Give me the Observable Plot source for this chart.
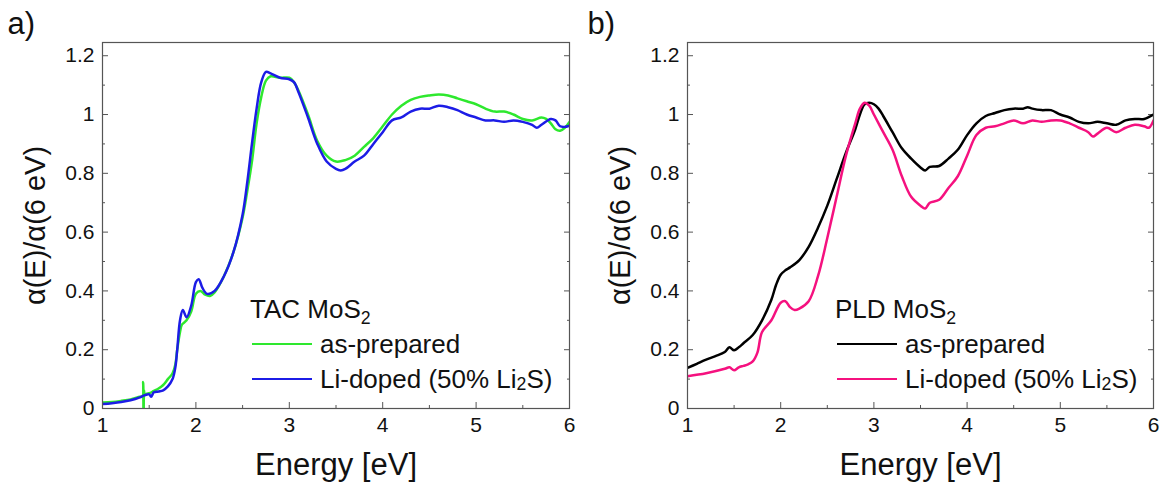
<!DOCTYPE html>
<html>
<head>
<meta charset="utf-8">
<script src="https://cdn.jsdelivr.net/npm/d3@7"></script>
<script src="https://cdn.jsdelivr.net/npm/@observablehq/plot@0.6"></script>
<style>
  html, body { margin: 0; padding: 0; background: white; }
  #wrap { position: relative; width: 1160px; height: 482px; display: flex; font-family: "Liberation Sans", Arial, sans-serif; }
  .legend { position: absolute; color: #111; }
  .legend .title { font-size: 26px; line-height: 1; }
  .legend .row { display: flex; align-items: center; font-size: 26px; line-height: 1; margin-top: 9px; }
  .legend .sw { width: 60px; height: 0; border-top: 2.6px solid; margin-right: 8px; margin-left: 2px; }
  .sb { font-size: 0.68em; position: relative; top: 0.32em; }
</style>
</head>
<body>
<div id="wrap"></div>
<script>
// ---------- data: panel a (TAC MoS2) ----------
const tacEnergyAs = [1.0,1.1,1.2,1.3,1.4,1.43,1.435,1.44,1.445,1.45,1.5,1.55,1.6,1.65,1.7,1.75,1.78,1.8,1.83,1.85,1.9,1.95,2.0,2.05,2.1,2.15,2.2,2.3,2.4,2.5,2.55,2.6,2.65,2.7,2.75,2.8,2.9,3.0,3.05,3.1,3.2,3.3,3.4,3.5,3.6,3.7,3.8,3.9,4.0,4.1,4.2,4.3,4.4,4.5,4.6,4.7,4.8,4.9,5.0,5.1,5.2,5.3,5.4,5.5,5.6,5.7,5.75,5.8,5.85,5.9,5.95,6.0];
const tacAsPrepared = [0.02,0.022,0.026,0.031,0.04,0.042,0.09,-0.03,0.06,0.05,0.052,0.06,0.068,0.08,0.1,0.12,0.15,0.2,0.26,0.285,0.3,0.33,0.39,0.4,0.387,0.383,0.395,0.45,0.53,0.65,0.74,0.84,0.97,1.06,1.115,1.13,1.125,1.125,1.11,1.08,1.0,0.91,0.86,0.84,0.845,0.86,0.89,0.92,0.96,1.0,1.03,1.05,1.06,1.065,1.068,1.065,1.055,1.045,1.035,1.02,1.01,1.01,1.0,0.985,0.98,0.99,0.985,0.97,0.95,0.945,0.955,0.975];
const tacEnergyLi = [1.0,1.1,1.2,1.3,1.4,1.45,1.5,1.52,1.55,1.6,1.65,1.7,1.75,1.78,1.8,1.83,1.86,1.9,1.95,2.0,2.03,2.07,2.12,2.2,2.3,2.4,2.5,2.55,2.6,2.65,2.7,2.75,2.8,2.9,3.0,3.05,3.1,3.2,3.3,3.4,3.5,3.55,3.6,3.7,3.8,3.9,4.0,4.1,4.2,4.3,4.4,4.5,4.6,4.7,4.8,4.9,5.0,5.1,5.2,5.3,5.4,5.5,5.6,5.65,5.7,5.8,5.85,5.9,5.95,6.0];
const tacLiDoped = [0.015,0.018,0.022,0.028,0.038,0.045,0.048,0.04,0.055,0.058,0.062,0.075,0.1,0.14,0.2,0.3,0.335,0.31,0.35,0.43,0.44,0.41,0.39,0.4,0.45,0.53,0.66,0.77,0.9,1.02,1.11,1.145,1.14,1.125,1.12,1.11,1.075,0.99,0.9,0.84,0.815,0.81,0.815,0.84,0.86,0.9,0.94,0.98,0.99,1.01,1.02,1.02,1.03,1.025,1.015,1.0,0.99,0.98,0.98,0.975,0.98,0.975,0.965,0.955,0.965,0.985,0.98,0.96,0.958,0.962];

// ---------- data: panel b (PLD MoS2) ----------
const pldEnergyAs = [1.0,1.1,1.2,1.3,1.4,1.45,1.5,1.55,1.6,1.7,1.8,1.9,1.95,2.0,2.05,2.1,2.2,2.3,2.4,2.5,2.6,2.7,2.8,2.85,2.9,2.95,3.0,3.05,3.1,3.2,3.3,3.4,3.5,3.55,3.6,3.7,3.8,3.9,4.0,4.1,4.2,4.3,4.4,4.5,4.6,4.65,4.7,4.8,4.9,5.0,5.1,5.2,5.3,5.4,5.5,5.6,5.7,5.8,5.9,6.0];
const pldAsPrepared = [0.138,0.152,0.166,0.178,0.192,0.208,0.198,0.208,0.222,0.25,0.3,0.37,0.42,0.455,0.47,0.48,0.505,0.55,0.615,0.69,0.78,0.87,0.95,1.0,1.035,1.04,1.035,1.02,0.995,0.94,0.885,0.85,0.82,0.81,0.822,0.825,0.85,0.88,0.93,0.97,0.995,1.005,1.015,1.02,1.02,1.025,1.02,1.015,1.015,1.0,0.99,0.975,0.97,0.975,0.97,0.965,0.98,0.985,0.985,1.0];
const pldEnergyLi = [1.0,1.2,1.4,1.45,1.5,1.55,1.6,1.65,1.7,1.75,1.8,1.9,2.0,2.05,2.1,2.15,2.2,2.3,2.4,2.5,2.6,2.7,2.8,2.85,2.9,2.95,3.0,3.1,3.2,3.3,3.4,3.5,3.55,3.6,3.7,3.8,3.9,4.0,4.1,4.2,4.3,4.4,4.5,4.6,4.7,4.8,4.9,5.0,5.1,5.2,5.3,5.35,5.4,5.5,5.6,5.7,5.8,5.9,5.95,6.0];
const pldLiDoped = [0.11,0.12,0.135,0.14,0.13,0.14,0.145,0.15,0.16,0.19,0.26,0.3,0.36,0.365,0.345,0.335,0.34,0.365,0.45,0.58,0.72,0.86,0.97,1.02,1.04,1.03,1.0,0.94,0.88,0.79,0.72,0.69,0.68,0.7,0.71,0.75,0.79,0.86,0.93,0.955,0.96,0.97,0.98,0.97,0.98,0.975,0.98,0.98,0.97,0.955,0.94,0.925,0.935,0.955,0.94,0.955,0.965,0.96,0.955,0.98];

// ---------- axis ticks ----------
const xMajor = [1,2,3,4,5,6];
const xMinor = [1.5,2.5,3.5,4.5,5.5];
const yMajor = [0,0.2,0.4,0.6,0.8,1.0,1.2];
const yMinor = [0.1,0.3,0.5,0.7,0.9,1.1];

const panels = [
  {label: "a)", sample: "TAC MoS", ml: 102, mr: 11,
   series: [
     {name: "as-prepared", e: tacEnergyAs, v: tacAsPrepared, color: "#2ee82e"},
     {name: "Li-doped", e: tacEnergyLi, v: tacLiDoped, color: "#1c1ce6"}
   ]},
  {label: "b)", sample: "PLD MoS", ml: 107, mr: 7,
   series: [
     {name: "as-prepared", e: pldEnergyAs, v: pldAsPrepared, color: "#000000"},
     {name: "Li-doped", e: pldEnergyLi, v: pldLiDoped, color: "#f5117f"}
   ]}
];

const frameColor = "#555";
const fmtY = d => String(+d.toFixed(1));
const wrap = document.getElementById("wrap");

panels.forEach((p, i) => {
  const marks = [
    Plot.axisX({ticks: xMajor, tickSize: -6, tickPadding: 15, fontSize: 21, label: null, tickFormat: d => String(d), stroke: frameColor, color: "#111"}),
    Plot.axisX({ticks: xMinor, tickSize: -3, text: null, label: null, stroke: frameColor}),
    Plot.axisY({ticks: yMajor, tickSize: -6, tickPadding: 14, fontSize: 21, label: null, tickFormat: fmtY, stroke: frameColor, color: "#111"}),
    Plot.axisY({ticks: yMinor, tickSize: -3, text: null, label: null, stroke: frameColor}),
    Plot.axisY({anchor: "right", ticks: yMajor, tickSize: -6, text: null, label: null, stroke: frameColor}),
    Plot.axisY({anchor: "right", ticks: yMinor, tickSize: -3, text: null, label: null, stroke: frameColor})
  ];
  p.series.forEach(s => {
    const rows = s.e.map((e, k) => ({e, v: s.v[k]}));
    marks.push(Plot.line(rows, {x: "e", y: "v", stroke: s.color, strokeWidth: 2.5, curve: "catmull-rom", clip: true}));
  });
  marks.push(Plot.frame({stroke: frameColor, strokeWidth: 1.2}));
  marks.push(Plot.text(["α(E)/α(6 eV)"], {frameAnchor: "left", dx: -67, rotate: -90, textAnchor: "middle", lineAnchor: "middle", fontSize: 29, fill: "#111"}));
  marks.push(Plot.text(["Energy [eV]"], {frameAnchor: "bottom", dy: 57, textAnchor: "middle", lineAnchor: "middle", fontSize: 31, fill: "#111"}));
  marks.push(Plot.text([p.label], {frameAnchor: "top-left", dx: -p.ml + 7, dy: -18, textAnchor: "start", lineAnchor: "middle", fontSize: 31, fill: "#111"}));

  const chart = Plot.plot({
    width: 580, height: 482,
    marginLeft: p.ml, marginRight: p.mr, marginTop: 42, marginBottom: 74,
    x: {domain: [1, 6]},
    y: {domain: [0, 1.245]},
    style: {fontFamily: "'Liberation Sans', Arial, sans-serif", background: "white", overflow: "visible"},
    marks
  });
  wrap.appendChild(chart);

  const lg = document.createElement("div");
  lg.className = "legend";
  lg.style.left = (i * 580 + p.ml + 148) + "px";
  lg.style.top = "296px";
  lg.innerHTML = `<div class="title">${p.sample}<span class="sb">2</span></div>` +
    `<div class="row"><span class="sw" style="border-color:${p.series[0].color}"></span>as-prepared</div>` +
    `<div class="row"><span class="sw" style="border-color:${p.series[1].color}"></span>Li-doped (50% Li<span class="sb">2</span>S)</div>`;
  wrap.appendChild(lg);
});
</script>
</body>
</html>
